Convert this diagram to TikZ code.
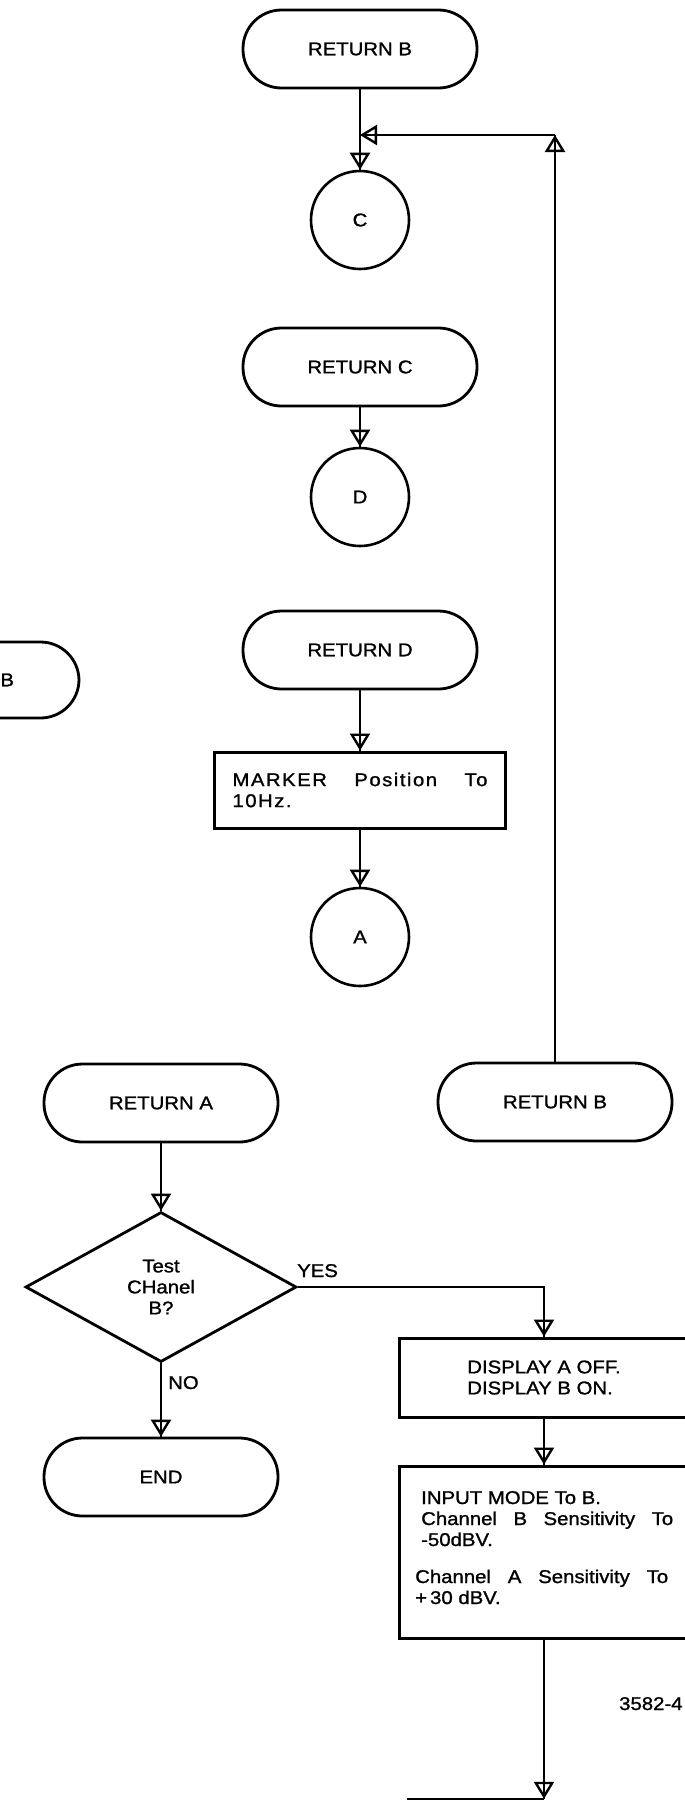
\documentclass[tikz,border=0pt]{standalone}
\usepackage{fontspec}
\setmainfont{Liberation Sans}[FakeStretch=1.1,FakeBold=1.2]
\usetikzlibrary{shapes.geometric,arrows.meta}
\newcommand\fsz{\fontsize{18.5}{21}\selectfont}
\begin{document}
\begin{tikzpicture}[x=1pt,y=-1pt,
  every node/.style={font=\fsz},
  term/.style={draw, line width=2.8pt, rectangle, rounded corners=38.5pt, minimum width=234pt, minimum height=78pt, inner sep=0pt},
  conn/.style={draw, line width=2.6pt, circle, minimum size=98pt, inner sep=0pt},
  proc/.style={draw, line width=3pt, rectangle, inner sep=0pt},
  dec/.style={draw, line width=2.8pt, diamond, aspect=1.8, minimum width=271pt, minimum height=150pt, inner sep=0pt, align=center},
  ln/.style={line width=2.4pt},
  tip/.style={ln, -{Triangle[open, length=17pt, width=20pt]}},
  lbl/.style={anchor=base west, inner sep=0pt}
]
\useasboundingbox (0,0) rectangle (685,1800);
\clip (0,0) rectangle (685,1800);

% nodes
\node[term] (rb1) at (360,49) {RETURN B};
\node[conn] (cc) at (360,220) {C};
\node[term] (rc) at (360,367) {RETURN C};
\node[conn] (cd) at (360,497) {D};
\node[term] (rd) at (360,650) {RETURN D};
\node[proc, minimum width=291pt, minimum height=76pt] (mk) at (360,790)
  {\addfontfeature{LetterSpace=8}\parbox{255pt}{\makebox[255pt][s]{MARKER Position To}\\10Hz.}};
\node[conn] (ca) at (360,937) {A};
\node[term, minimum height=76pt] (lb) at (-38,680) {\phantom{RETURN }B};
\node[term] (ra) at (161,1103) {RETURN A};
\node[term] (rb2) at (555,1102) {RETURN B};
\node[dec] (dm) at (161,1287) {Test\\CHanel\\B?};
\node[term] (en) at (161,1477) {END};
\node[proc, minimum width=290pt, minimum height=79pt, align=left] (dp) at (544,1377.5)
  {DISPLAY A OFF.\\DISPLAY B ON.};
\node[proc, minimum width=290pt, minimum height=172pt] (inp) at (544,1552) {};
\node[lbl] (inpt1) at (421,1504)
  {\parbox[t]{252pt}{INPUT MODE To B.\\\makebox[252pt][s]{Channel B Sensitivity To}\\-50dBV.}};
\node[lbl] (inpt2) at (415,1583)
  {\parbox[t]{253pt}{\makebox[253pt][s]{Channel A Sensitivity To}\\+\kern3pt30 dBV.}};
\node[minimum width=274pt, minimum height=100pt, inner sep=0pt] (nx) at (544,1849) {};
\node[lbl] (fig) at (619,1710) {3582-4};
\node[lbl] (yes) at (297,1277) {YES};
\node[lbl] (no) at (168,1389) {NO};

\coordinate (j1) at (360,135);
\coordinate (j2) at (555,135);
\coordinate (yc) at (544,1287);

% connectors (line drawn through the open arrowhead)
\foreach \a/\b in {rb1.south/cc.north, rb2.north/j2, j2/j1, rc.south/cd.north,
  rd.south/mk.north, mk.south/ca.north, ra.south/dm.north, dm.south/en.north,
  dp.south/inp.north, inp.south/nx.north}{
  \draw[ln] (\a) -- (\b);
  \draw[tip] (\a) -- (\b);
}
\draw[ln] (dm.east) -- (yc) -- (dp.north);
\draw[tip] (dm.east) -- (yc) -- (dp.north);
\draw[line width=2.6pt] (nx.north west) -- (nx.north);
\end{tikzpicture}
\end{document}
